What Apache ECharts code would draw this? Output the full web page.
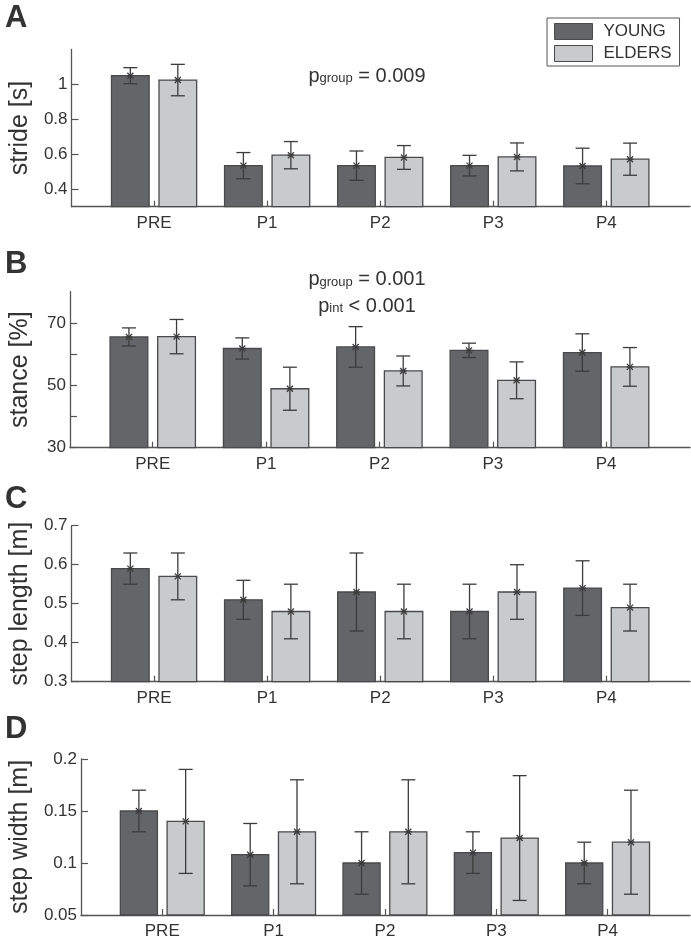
<!DOCTYPE html>
<html>
<head>
<meta charset="utf-8">
<script src="https://cdn.jsdelivr.net/npm/echarts@6/dist/echarts.min.js"></script>
<style>html,body{margin:0;padding:0;background:#fff;}#c{width:691px;height:940px;}</style>
</head>
<body>
<div id="c"></div>
<script>
const categories = ['PRE', 'P1', 'P2', 'P3', 'P4'];

const strideYoung = [1.05, 0.535, 0.535, 0.535, 0.533];
const strideYoungErr = [0.046, 0.075, 0.084, 0.059, 0.102];
const strideElders = [1.025, 0.595, 0.582, 0.585, 0.572];
const strideEldersErr = [0.09, 0.078, 0.068, 0.08, 0.092];

const stanceYoung = [65.5, 61.8, 62.3, 61.2, 60.5];
const stanceYoungErr = [2.9, 3.4, 6.5, 2.3, 6.0];
const stanceElders = [65.6, 48.9, 54.6, 51.6, 55.9];
const stanceEldersErr = [5.5, 6.9, 4.8, 5.9, 6.2];

const stepLengthYoung = [0.59, 0.51, 0.53, 0.48, 0.54];
const stepLengthYoungErr = [0.04, 0.05, 0.10, 0.07, 0.07];
const stepLengthElders = [0.57, 0.48, 0.48, 0.53, 0.49];
const stepLengthEldersErr = [0.06, 0.07, 0.07, 0.07, 0.06];

const stepWidthYoung = [0.15, 0.108, 0.10, 0.11, 0.10];
const stepWidthYoungErr = [0.02, 0.03, 0.03, 0.02, 0.02];
const stepWidthElders = [0.14, 0.13, 0.13, 0.124, 0.12];
const stepWidthEldersErr = [0.05, 0.05, 0.05, 0.06, 0.05];

const strideTicks = [0.4, 0.6, 0.8, 1];
const strideLabels = [0.4, 0.6, 0.8, 1];
const stanceTicks = [30, 40, 50, 60, 70];
const stanceLabels = [30, 50, 70];
const stepLengthTicks = [0.3, 0.4, 0.5, 0.6, 0.7];
const stepLengthLabels = [0.3, 0.4, 0.5, 0.6, 0.7];
const stepWidthTicks = [0.05, 0.1, 0.15, 0.2];
const stepWidthLabels = [0.05, 0.1, 0.15, 0.2];

const FONT = '"Liberation Sans", Arial, Helvetica, sans-serif';
const TXT = '#333';
const AX = '#555';
const FILL_Y = '#646569';
const FILL_E = '#c9cacc';
const EDGE = '#4a4a4c';
const ERR = '#3c3c3c';
const BAR_W = 0.333;
const OFF = 0.21;
const X_MIN = 0.27, X_MAX = 5.74;

const panels = [
  { name: 'stride [s]', min: 0.3, max: 1.2, ticks: strideTicks, labels: strideLabels,
    young: strideYoung, youngErr: strideYoungErr, elders: strideElders, eldersErr: strideEldersErr,
    top: 49.5, height: 157.2 },
  { name: 'stance [%]', min: 30, max: 80, ticks: stanceTicks, labels: stanceLabels,
    young: stanceYoung, youngErr: stanceYoungErr, elders: stanceElders, eldersErr: stanceEldersErr,
    top: 291.7, height: 156 },
  { name: 'step length [m]', min: 0.3, max: 0.7, ticks: stepLengthTicks, labels: stepLengthLabels,
    young: stepLengthYoung, youngErr: stepLengthYoungErr, elders: stepLengthElders, eldersErr: stepLengthEldersErr,
    top: 525.7, height: 156 },
  { name: 'step width [m]', min: 0.05, max: 0.2, ticks: stepWidthTicks, labels: stepWidthLabels,
    young: stepWidthYoung, youngErr: stepWidthYoungErr, elders: stepWidthElders, eldersErr: stepWidthEldersErr,
    top: 759, height: 156.7 }
];

function makeRender(off, fill, yMin) {
  return function (params, api) {
    const x = api.value(0) + off;
    const m = api.value(1);
    const e = api.value(2);
    const tl = api.coord([x - BAR_W / 2, m]);
    const br = api.coord([x + BAR_W / 2, yMin]);
    const c = api.coord([x, m]);
    const t = api.coord([x, m + e]);
    const b = api.coord([x, m - e]);
    const lw = 1.3;
    const cap = 7;
    const s = 3;
    const ls = { stroke: ERR, lineWidth: lw };
    return {
      type: 'group',
      children: [
        { type: 'rect', shape: { x: tl[0], y: tl[1], width: br[0] - tl[0], height: br[1] - tl[1] },
          style: { fill: fill, stroke: EDGE, lineWidth: 1.3 } },
        { type: 'line', shape: { x1: t[0], y1: t[1], x2: b[0], y2: b[1] }, style: ls },
        { type: 'line', shape: { x1: t[0] - cap, y1: t[1], x2: t[0] + cap, y2: t[1] }, style: ls },
        { type: 'line', shape: { x1: b[0] - cap, y1: b[1], x2: b[0] + cap, y2: b[1] }, style: ls },
        { type: 'line', shape: { x1: c[0] - s, y1: c[1] - s, x2: c[0] + s, y2: c[1] + s }, style: ls },
        { type: 'line', shape: { x1: c[0] - s, y1: c[1] + s, x2: c[0] + s, y2: c[1] - s }, style: ls },
        { type: 'line', shape: { x1: c[0] - s - 0.5, y1: c[1], x2: c[0] + s + 0.5, y2: c[1] }, style: ls }
      ]
    };
  };
}

const grid = [], xAxis = [], yAxis = [], series = [];
panels.forEach((p, i) => {
  grid.push({ left: 66, right: 1, top: p.top, height: p.height, containLabel: false });
  xAxis.push({
    gridIndex: i, type: 'value', min: X_MIN, max: X_MAX,
    splitLine: { show: false },
    axisLine: { show: true, onZero: false, lineStyle: { color: AX, width: 1.3 } },
    axisTick: { show: true, inside: true, length: 6, customValues: [1, 2, 3, 4, 5], lineStyle: { color: AX, width: 1.2 } },
    axisLabel: { show: true, customValues: [1, 2, 3, 4, 5], formatter: v => categories[Math.round(v) - 1],
      fontSize: 17, color: TXT, fontFamily: FONT, margin: 8 }
  });
  yAxis.push({
    gridIndex: i, type: 'value', min: p.min, max: p.max,
    splitLine: { show: false },
    axisLine: { show: true, onZero: false, lineStyle: { color: AX, width: 1.3 } },
    axisTick: { show: true, inside: true, length: 7, customValues: p.ticks, lineStyle: { color: AX, width: 1.2 } },
    axisLabel: { show: true, customValues: p.labels, fontSize: 17, color: TXT, fontFamily: FONT, margin: 4 },
    name: p.name, nameLocation: 'middle', nameGap: 37,
    nameTextStyle: { fontSize: 25, color: TXT, fontFamily: FONT }
  });
  const yd = p.young.map((v, k) => [k + 1, v, p.youngErr[k]]);
  const ed = p.elders.map((v, k) => [k + 1, v, p.eldersErr[k]]);
  series.push({
    name: 'YOUNG', type: 'custom', xAxisIndex: i, yAxisIndex: i, data: yd,
    itemStyle: { color: FILL_Y, borderColor: EDGE, borderWidth: 1 },
    renderItem: makeRender(-OFF, FILL_Y, p.min), silent: true, animation: false
  });
  series.push({
    name: 'ELDERS', type: 'custom', xAxisIndex: i, yAxisIndex: i, data: ed,
    itemStyle: { color: FILL_E, borderColor: EDGE, borderWidth: 1 },
    renderItem: makeRender(OFF, FILL_E, p.min), silent: true, animation: false
  });
});

const letters = [['A', 3], ['B', 249], ['C', 484], ['D', 714]];
const graphic = letters.map(([t, y]) => ({
  type: 'text', left: 5, top: y,
  style: { text: t, font: 'bold 31px ' + FONT, fill: TXT }
}));

function pText(main, sub, rest, y) {
  return {
    type: 'text', x: 367, y: y,
    style: {
      text: '{p|' + main + '}{s|' + sub + '}{t|' + rest + '}',
      align: 'center', verticalAlign: 'bottom', fill: TXT,
      rich: {
        p: { fontSize: 20, fontFamily: FONT, fill: TXT, verticalAlign: 'bottom', lineHeight: 22 },
        s: { fontSize: 13, fontFamily: FONT, fill: TXT, verticalAlign: 'bottom', lineHeight: 22, padding: [0, 0, 1, 0] },
        t: { fontSize: 20, fontFamily: FONT, fill: TXT, verticalAlign: 'bottom', lineHeight: 22 }
      }
    }
  };
}
graphic.push(pText('p', 'group', ' = 0.009', 86));
graphic.push(pText('p', 'group', ' = 0.001', 289.5));
graphic.push(pText('p', 'int', ' < 0.001', 316));

const option = {
  animation: false,
  backgroundColor: '#fff',
  textStyle: { fontFamily: FONT },
  grid, xAxis, yAxis, series, graphic,
  legend: {
    orient: 'vertical', left: 547, top: 18,
    padding: [5, 8, 4, 7], itemGap: 5, itemWidth: 38, itemHeight: 16,
    borderColor: AX, borderWidth: 1, backgroundColor: '#fff',
    selectedMode: false,
    textStyle: { fontSize: 17, color: TXT, fontFamily: FONT, padding: [0, 0, 0, 6] },
    data: [
      { name: 'YOUNG', icon: 'rect', itemStyle: { color: FILL_Y, borderColor: EDGE, borderWidth: 1 } },
      { name: 'ELDERS', icon: 'rect', itemStyle: { color: FILL_E, borderColor: EDGE, borderWidth: 1 } }
    ]
  }
};

const chart = echarts.init(document.getElementById('c'), null, { renderer: 'canvas' });
chart.setOption(option);
</script>
</body>
</html>
